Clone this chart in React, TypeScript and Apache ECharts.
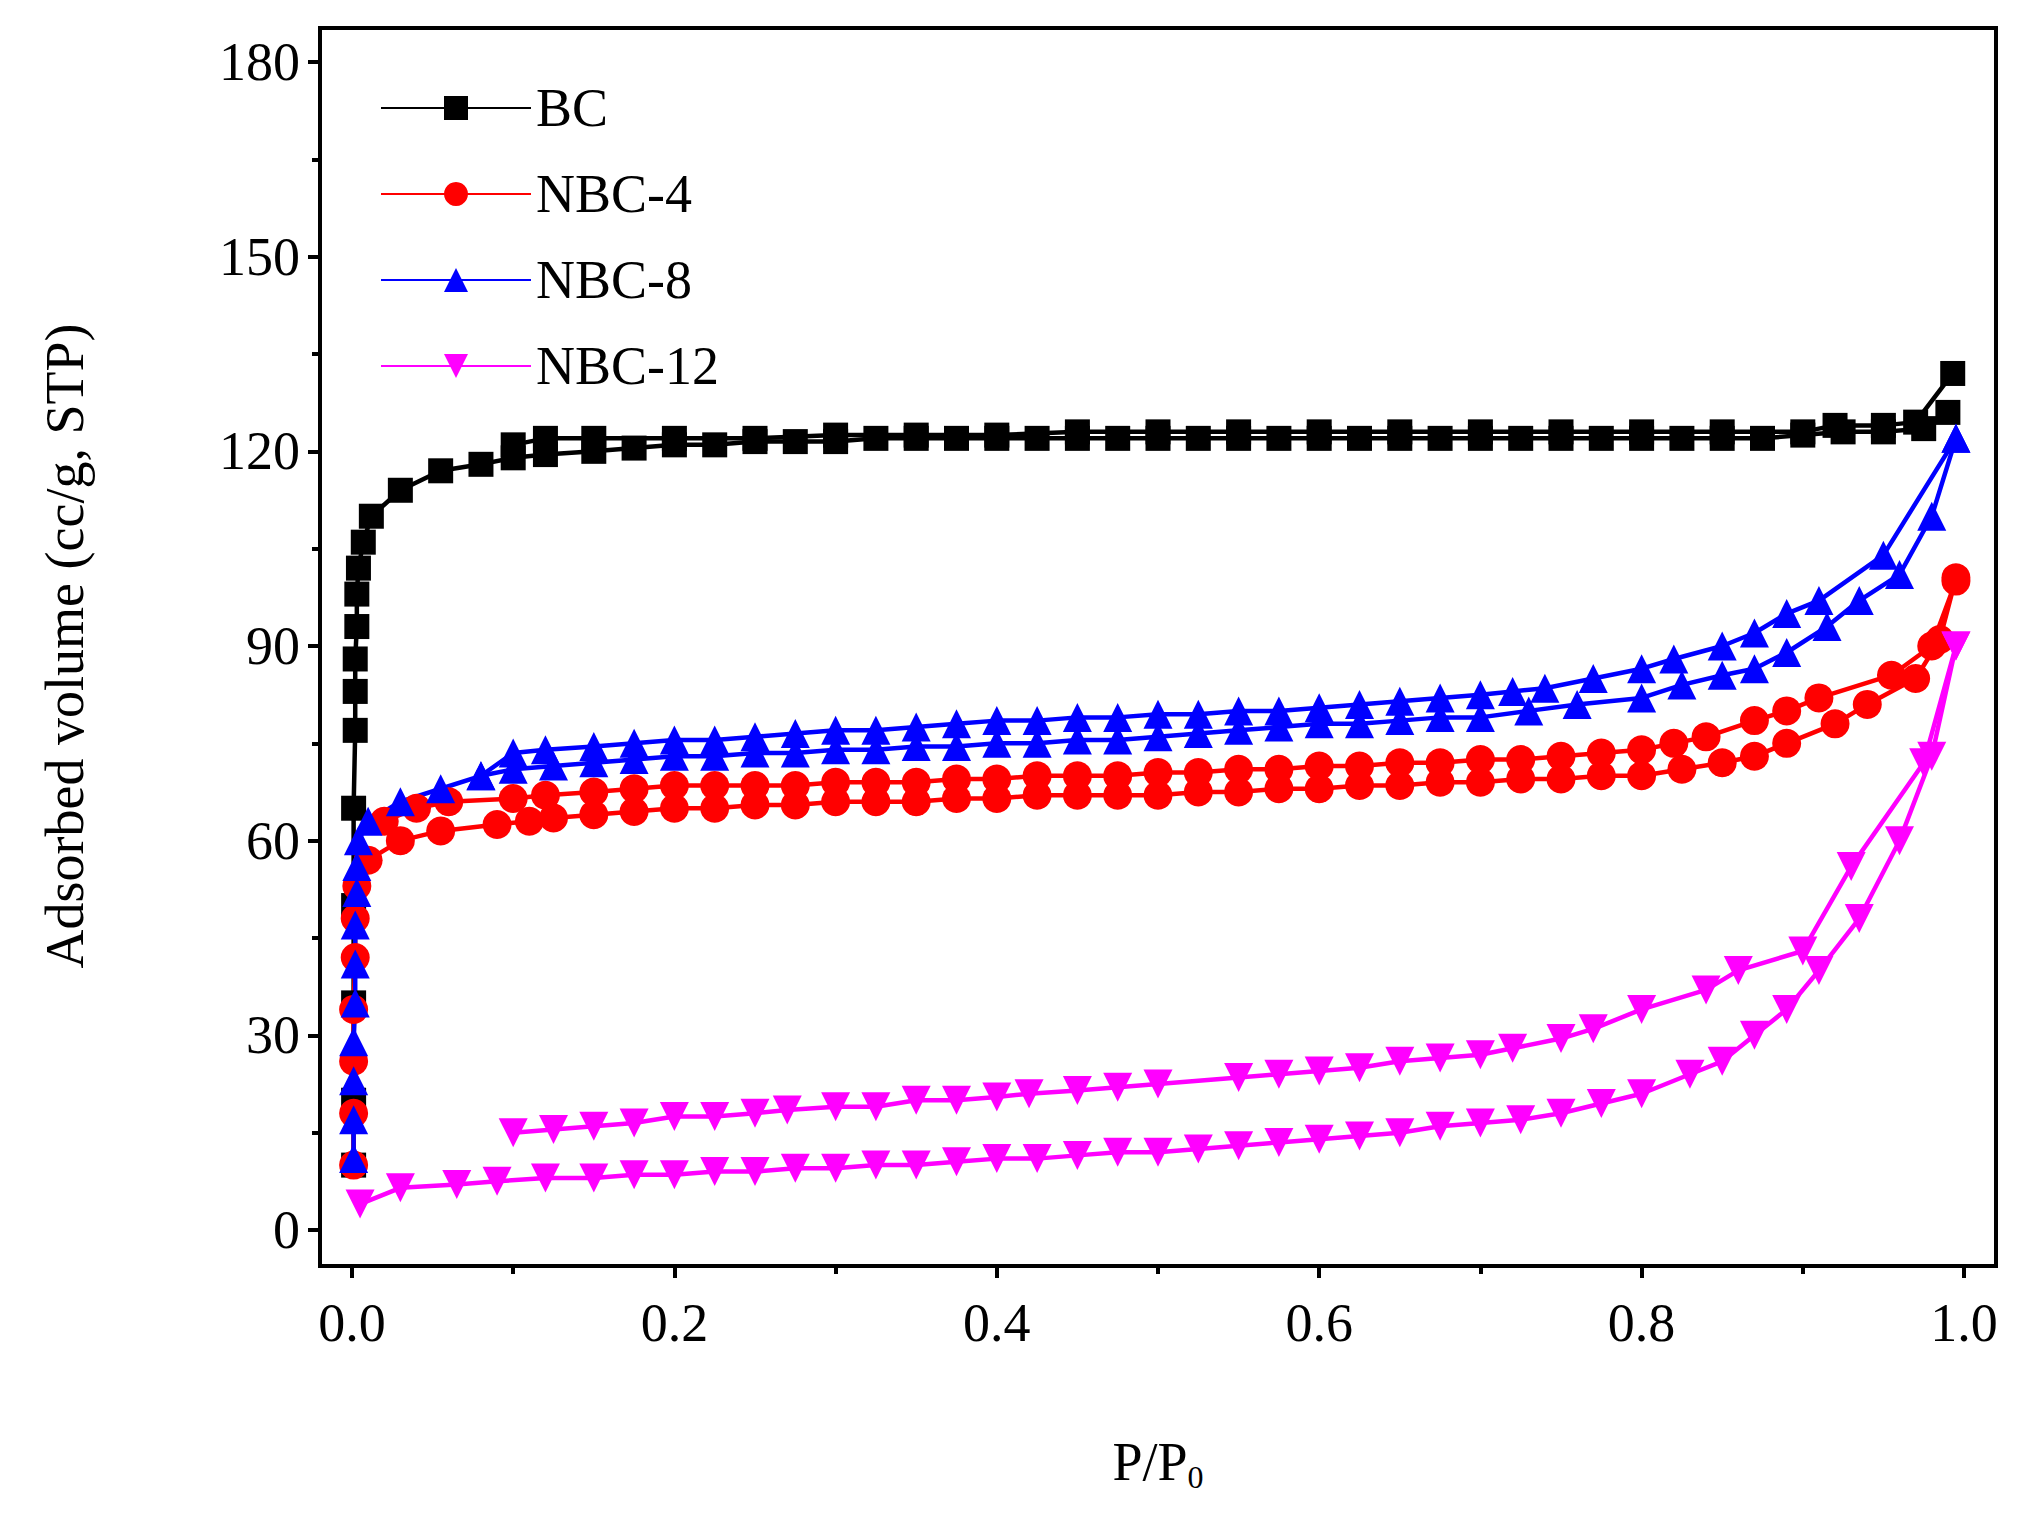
import * as echarts from "echarts";
import { useEffect, useRef } from "react";

const bcAds = [[0.001,10],[0.001,20],[0.001,35],[0.001,50],[0.001,65],[0.002,77],[0.002,83],[0.002,88],[0.003,93],[0.003,98],[0.004,102],[0.007,106],[0.012,110],[0.03,114],[0.055,117],[0.08,118],[0.1,119],[0.12,119.5],[0.15,120],[0.175,120.5],[0.2,121],[0.225,121],[0.25,121.5],[0.275,121.5],[0.3,121.5],[0.325,122],[0.35,122],[0.375,122],[0.4,122],[0.425,122],[0.45,122],[0.475,122],[0.5,122],[0.525,122],[0.55,122],[0.575,122],[0.6,122],[0.625,122],[0.65,122],[0.675,122],[0.7,122],[0.725,122],[0.75,122],[0.775,122],[0.8,122],[0.825,122],[0.85,122],[0.875,122],[0.9,122.5],[0.925,123],[0.95,123],[0.975,123.5],[0.99,126]];
const bcDes = [[0.993,132],[0.97,124.5],[0.95,124],[0.92,124],[0.9,123],[0.85,123],[0.8,123],[0.75,123],[0.7,123],[0.65,123],[0.6,123],[0.55,123],[0.5,123],[0.45,123],[0.4,122.5],[0.35,122.5],[0.3,122.5],[0.25,122],[0.2,122],[0.15,122],[0.12,122],[0.1,121]];
const nbc4Ads = [[0.001,10],[0.001,18],[0.001,26],[0.001,34],[0.002,42],[0.002,48],[0.003,53],[0.01,57],[0.03,60],[0.055,61.5],[0.09,62.5],[0.11,63],[0.125,63.5],[0.15,64],[0.175,64.5],[0.2,65],[0.225,65],[0.25,65.5],[0.275,65.5],[0.3,66],[0.325,66],[0.35,66],[0.375,66.5],[0.4,66.5],[0.425,67],[0.45,67],[0.475,67],[0.5,67],[0.525,67.5],[0.55,67.5],[0.575,68],[0.6,68],[0.625,68.5],[0.65,68.5],[0.675,69],[0.7,69],[0.725,69.5],[0.75,69.5],[0.775,70],[0.8,70],[0.825,71],[0.85,72],[0.87,73],[0.89,75],[0.92,78],[0.94,81],[0.97,85],[0.985,91],[0.995,100.5]];
const nbc4Des = [[0.995,100],[0.98,90],[0.955,85.5],[0.91,82],[0.89,80],[0.87,78.5],[0.84,76],[0.82,75],[0.8,74],[0.775,73.5],[0.75,73],[0.725,72.5],[0.7,72.5],[0.675,72],[0.65,72],[0.625,71.5],[0.6,71.5],[0.575,71],[0.55,71],[0.525,70.5],[0.5,70.5],[0.475,70],[0.45,70],[0.425,70],[0.4,69.5],[0.375,69.5],[0.35,69],[0.325,69],[0.3,69],[0.275,68.5],[0.25,68.5],[0.225,68.5],[0.2,68.5],[0.175,68],[0.15,67.5],[0.12,67],[0.1,66.5],[0.06,66],[0.04,65],[0.02,63]];
const nbc8Ads = [[0.001,11],[0.001,17],[0.001,23],[0.001,29],[0.002,35],[0.002,41],[0.002,47],[0.003,52],[0.003,56],[0.004,60],[0.01,63],[0.03,66],[0.055,68],[0.08,70],[0.1,71],[0.125,71.5],[0.15,72],[0.175,72.5],[0.2,73],[0.225,73],[0.25,73.5],[0.275,73.5],[0.3,74],[0.325,74],[0.35,74.5],[0.375,74.5],[0.4,75],[0.425,75],[0.45,75.5],[0.475,75.5],[0.5,76],[0.525,76.5],[0.55,77],[0.575,77.5],[0.6,78],[0.625,78],[0.65,78.5],[0.675,79],[0.7,79],[0.73,80],[0.76,81],[0.8,82],[0.825,84],[0.85,85.5],[0.87,86.5],[0.89,89],[0.915,93],[0.935,97],[0.96,101],[0.98,110],[0.995,122]];
const nbc8Des = [[0.995,122],[0.95,104],[0.91,97],[0.89,95],[0.87,92],[0.85,90],[0.82,88],[0.8,86.5],[0.77,85],[0.74,83.5],[0.72,83],[0.7,82.5],[0.675,82],[0.65,81.5],[0.625,81],[0.6,80.5],[0.575,80],[0.55,80],[0.525,79.5],[0.5,79.5],[0.475,79],[0.45,79],[0.425,78.5],[0.4,78.5],[0.375,78],[0.35,77.5],[0.325,77],[0.3,77],[0.275,76.5],[0.25,76],[0.225,75.5],[0.2,75.5],[0.175,75],[0.15,74.5],[0.12,74],[0.1,73.5],[0.08,70]];
const nbc12Ads = [[0.005,4],[0.03,6.5],[0.065,7],[0.09,7.5],[0.12,8],[0.15,8],[0.175,8.5],[0.2,8.5],[0.225,9],[0.25,9],[0.275,9.5],[0.3,9.5],[0.325,10],[0.35,10],[0.375,10.5],[0.4,11],[0.425,11],[0.45,11.5],[0.475,12],[0.5,12],[0.525,12.5],[0.55,13],[0.575,13.5],[0.6,14],[0.625,14.5],[0.65,15],[0.675,16],[0.7,16.5],[0.725,17],[0.75,18],[0.775,19.5],[0.8,21],[0.83,24],[0.85,26],[0.87,30],[0.89,34],[0.91,40],[0.935,48],[0.96,60],[0.98,73],[0.995,90]];
const nbc12Des = [[0.995,90],[0.975,72],[0.93,56],[0.9,43],[0.86,40],[0.84,37],[0.8,34],[0.77,31],[0.75,29.5],[0.72,28],[0.7,27],[0.675,26.5],[0.65,26],[0.625,25],[0.6,24.5],[0.575,24],[0.55,23.5],[0.5,22.5],[0.475,22],[0.45,21.5],[0.42,21],[0.4,20.5],[0.375,20],[0.35,20],[0.325,19],[0.3,19],[0.27,18.5],[0.25,18],[0.225,17.5],[0.2,17.5],[0.175,16.5],[0.15,16],[0.125,15.5],[0.1,15]];

const serif = "Liberation Serif";
const mk = (name: string, color: string, symbol: string, data: number[][], rotate = 0) => ({
  name, type: "line", xAxisIndex: 1, yAxisIndex: 1, data, clip: false,
  symbol, symbolSize: symbol === "rect" ? 25 : 29, symbolRotate: rotate,
  lineStyle: { color, width: 4.5 }, itemStyle: { color }, color,
});

const option: any = {
  animation: false,
  grid: [
    { left: 320, top: 28, width: 1676, height: 1238, show: true, borderColor: "#000", borderWidth: 4 },
    { left: 352, top: 62, width: 1612, height: 1168 },
  ],
  legend: {
    orient: "vertical", left: 375, top: 76, itemWidth: 150, itemHeight: 30, itemGap: 32,
    textStyle: { fontFamily: serif, fontSize: 54, color: "#000" },
    data: ["BC", "NBC-4", "NBC-8", "NBC-12"],
  },
  xAxis: [
    { gridIndex: 0, type: "value", min: 0, max: 1, show: false },
    {
      gridIndex: 1, type: "value", min: 0, max: 1, interval: 0.2, offset: 36,
      axisLine: { show: false, onZero: false }, splitLine: { show: false },
      axisTick: { show: true, length: 12, lineStyle: { color: "#000", width: 4 } },
      minorTick: { show: true, splitNumber: 2, length: 8, lineStyle: { color: "#000", width: 4 } },
      axisLabel: { fontFamily: serif, fontSize: 54, color: "#000", margin: 30, formatter: (v: number) => v.toFixed(1) },
      name: "P/P{s|0}", nameLocation: "middle", nameGap: 165,
      nameTextStyle: { fontFamily: serif, fontSize: 54, color: "#000", rich: { s: { fontFamily: serif, fontSize: 32, color: "#000", verticalAlign: "bottom", padding: [30, 0, 0, 0] } } },
    },
  ],
  yAxis: [
    { gridIndex: 0, type: "value", min: 0, max: 1, show: false },
    {
      gridIndex: 1, type: "value", min: 0, max: 180, interval: 30, offset: 32,
      axisLine: { show: false, onZero: false }, splitLine: { show: false },
      axisTick: { show: true, length: 12, lineStyle: { color: "#000", width: 4 } },
      minorTick: { show: true, splitNumber: 2, length: 8, lineStyle: { color: "#000", width: 4 } },
      axisLabel: { fontFamily: serif, fontSize: 54, color: "#000", margin: 20 },
      name: "Adsorbed volume (cc/g, STP)", nameLocation: "middle", nameGap: 228,
      nameTextStyle: { fontFamily: serif, fontSize: 54, color: "#000" },
    },
  ],
  series: [
    mk("BC", "#000000", "rect", bcAds), mk("BC", "#000000", "rect", bcDes),
    mk("NBC-4", "#ff0000", "circle", nbc4Ads), mk("NBC-4", "#ff0000", "circle", nbc4Des),
    mk("NBC-8", "#0000ff", "triangle", nbc8Ads), mk("NBC-8", "#0000ff", "triangle", nbc8Des),
    mk("NBC-12", "#ff00ff", "triangle", nbc12Ads, 180), mk("NBC-12", "#ff00ff", "triangle", nbc12Des, 180),
  ],
};

export default function App() {
  const ref = useRef<HTMLDivElement>(null);
  useEffect(() => {
    const chart = echarts.init(ref.current!, null, { renderer: "svg" });
    chart.setOption(option);
    return () => chart.dispose();
  }, []);
  return <div ref={ref} style={{ position: "fixed", left: 0, top: 0, width: 2026, height: 1520, background: "#fff" }} />;
}
